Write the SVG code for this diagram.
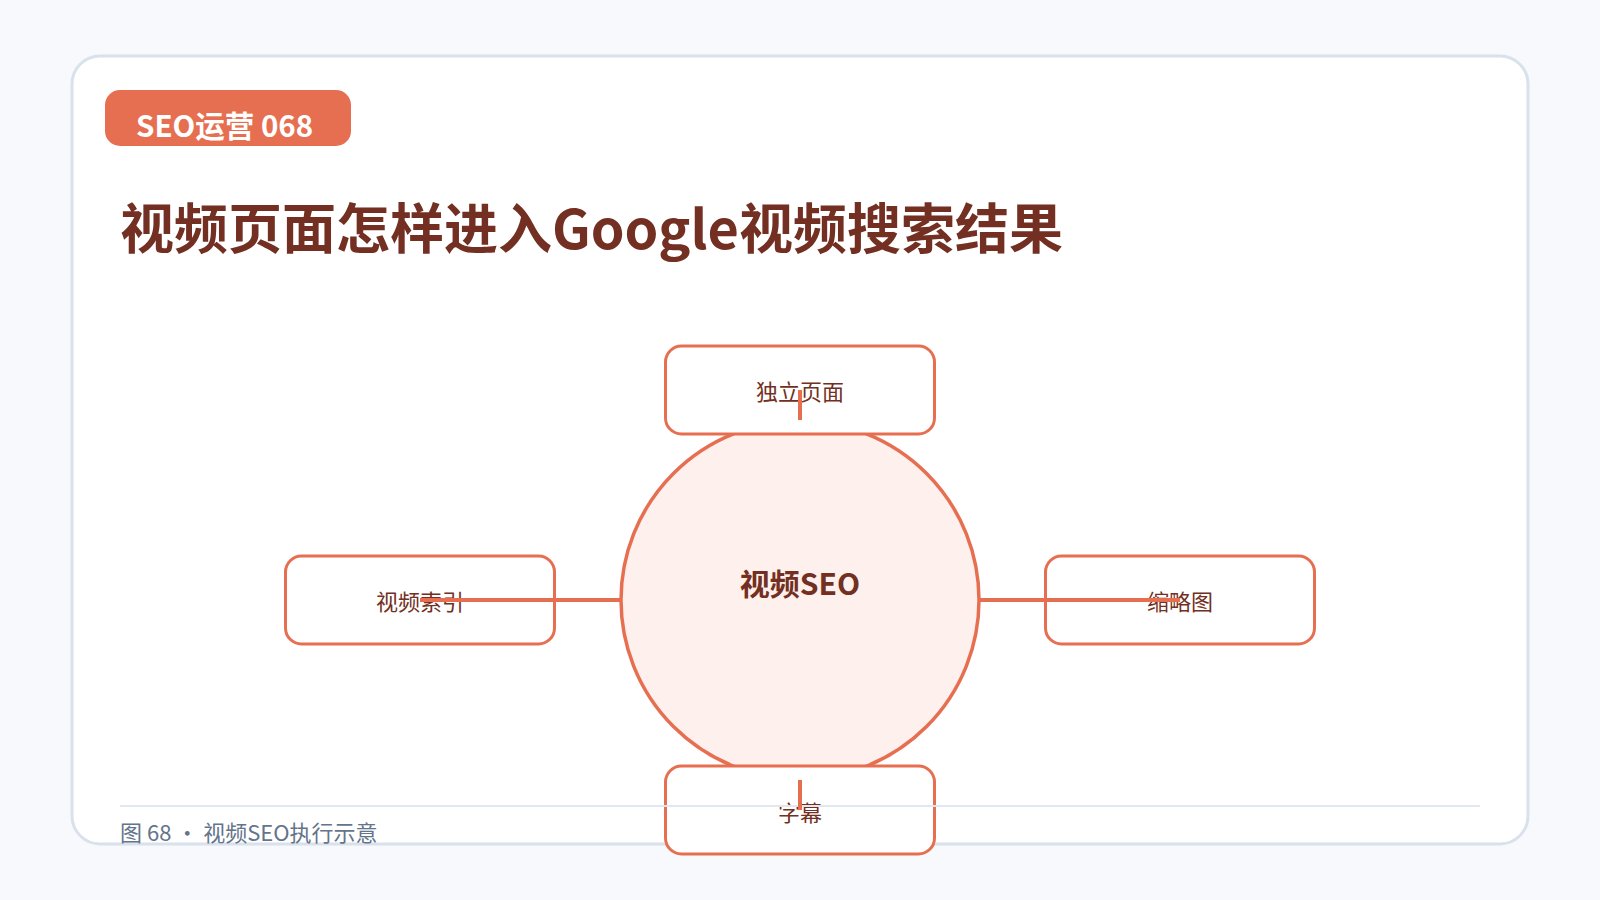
<svg xmlns="http://www.w3.org/2000/svg" width="1600" height="900" viewBox="0 0 1600 900">
<style>
.box{fill:#FFFFFF;stroke:#E76F51;stroke-width:3}
.lbl{font-family:"Noto Sans CJK SC","Noto Sans",sans-serif;font-size:22px;fill:#722F22;text-anchor:middle}
.conn{stroke:#E76F51;stroke-width:4;fill:none}
</style>
<rect x="0" y="0" width="1600" height="900" fill="#F7F9FC"/>
<rect x="72" y="56" width="1456" height="788" rx="28" fill="#FFFFFF" stroke="#D9E2EC" stroke-width="3"/>
<g id="badge">
<rect x="105" y="90" width="246" height="56" rx="15" fill="#E76F51"/>
<text x="136" y="137" font-family="Noto Sans CJK SC,Noto Sans,sans-serif" font-size="29.5" font-weight="700" fill="#FFFFFF">SEO运营 068</text>
</g>
<text id="title" x="120" y="249" font-family="Noto Sans CJK SC,Noto Sans,sans-serif" font-size="54" font-weight="700" fill="#722F22">视频页面怎样进入Google视频搜索结果</text>
<g id="hub">
<circle cx="800" cy="600" r="179" fill="#FEF0EC" stroke="#E76F51" stroke-width="3.5"/>
<text x="800" y="595" font-family="Noto Sans CJK SC,Noto Sans,sans-serif" font-size="30" font-weight="700" fill="#722F22" text-anchor="middle">视频SEO</text>
</g>
<g id="node-top">
<rect class="box" x="665.5" y="346" width="269" height="88" rx="16"/>
<text class="lbl" x="800" y="400">独立页面</text>
</g>
<g id="node-left">
<rect class="box" x="285.5" y="556" width="269" height="88" rx="16"/>
<text class="lbl" x="420" y="610">视频索引</text>
</g>
<g id="node-right">
<rect class="box" x="1045.5" y="556" width="269" height="88" rx="16"/>
<text class="lbl" x="1180" y="610">缩略图</text>
</g>
<g id="node-bottom">
<rect class="box" x="665.5" y="766" width="269" height="88" rx="16"/>
<text class="lbl" x="800" y="821">字幕</text>
</g>
<g id="footer">
<line x1="120" y1="806" x2="1480" y2="806" stroke="#E2E8F0" stroke-width="2"/>
<text x="120" y="841" font-family="Noto Sans CJK SC,Noto Sans,sans-serif" font-size="22" fill="#64748B">图 68 • 视频SEO执行示意</text>
</g>
<g id="connectors">
<line class="conn" x1="800" y1="420" x2="800" y2="390"/>
<line class="conn" x1="620" y1="600" x2="420" y2="600"/>
<line class="conn" x1="980" y1="600" x2="1180" y2="600"/>
<line class="conn" x1="800" y1="780" x2="800" y2="810"/>
</g>
</svg>
